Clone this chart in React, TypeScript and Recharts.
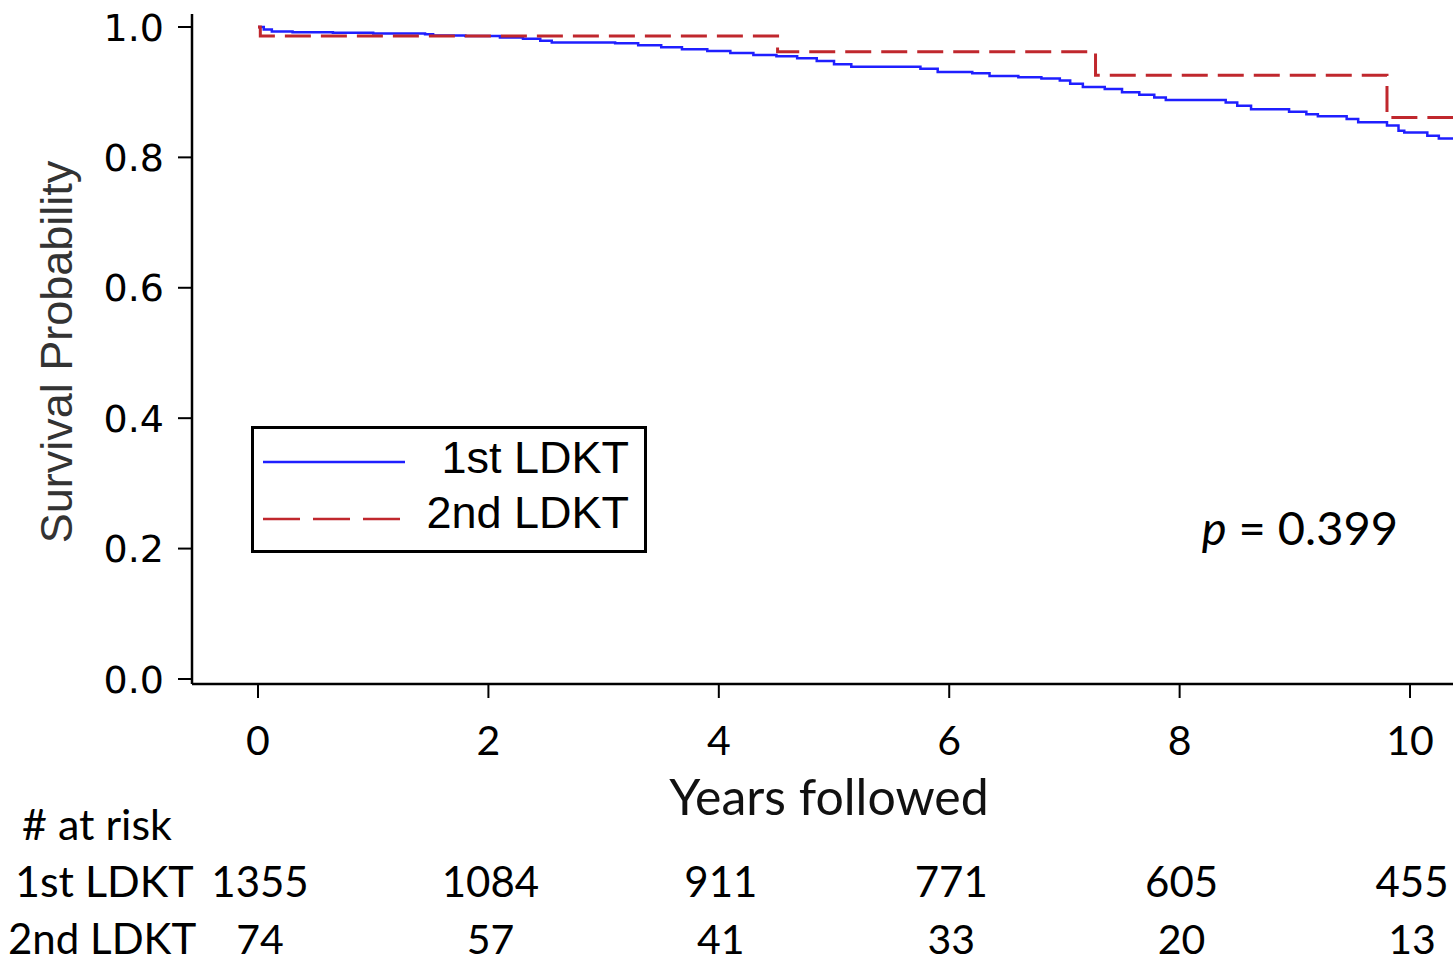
import React from "react";
import { LineChart, Line, XAxis, YAxis, Legend, Customized } from "recharts";

// ---- data ----
const years = [0, 2, 4, 6, 8, 10];
const atRiskFirst = [1355, 1084, 911, 771, 605, 455];
const atRiskSecond = [74, 57, 41, 33, 20, 13];
const yTicks = [0, 0.2, 0.4, 0.6, 0.8, 1.0];
const seriesNames = ["1st LDKT", "2nd LDKT"];
const pValueText = "0.399";

const firstTimes = [
  0, 0.05, 0.12, 0.3, 0.65, 1.0, 1.45, 1.52, 1.8, 2.1, 2.3, 2.45, 2.55, 3.1, 3.3, 3.5,
  3.68, 3.9, 4.1, 4.3, 4.5, 4.68, 4.85, 5.0, 5.15, 5.75, 5.9, 6.2, 6.35, 6.6, 6.8, 6.96,
  7.05, 7.16, 7.35, 7.5, 7.65, 7.78, 7.88, 8.4, 8.5, 8.62, 8.95, 9.1, 9.2, 9.45, 9.55,
  9.8, 9.9, 9.95, 10.15, 10.25, 10.373,
];
const firstSurv = [
  1.0, 0.996, 0.993, 0.992, 0.991, 0.99, 0.989, 0.987, 0.986, 0.984, 0.982, 0.979, 0.976,
  0.975, 0.972, 0.969, 0.966, 0.963, 0.96, 0.957, 0.955, 0.952, 0.948, 0.943, 0.939, 0.936,
  0.931, 0.929, 0.925, 0.923, 0.921, 0.918, 0.913, 0.908, 0.905, 0.9, 0.896, 0.892, 0.888,
  0.884, 0.879, 0.874, 0.87, 0.866, 0.863, 0.859, 0.854, 0.849, 0.841, 0.838, 0.833, 0.829,
  0.829,
];
const secondTimes = [0, 0.02, 4.51, 7.27, 9.8, 10.373];
const secondSurv = [1.0, 0.986, 0.962, 0.926, 0.861, 0.861];

const firstData = firstTimes.map((t, i) => ({ t, s: firstSurv[i] }));
const secondData = secondTimes.map((t, i) => ({ t, s: secondSurv[i] }));

const BLUE = "#1f1fff";
const RED = "#c0272d";
const CAL = "Lato, 'Open Sans', sans-serif";
const ARIAL = "'Liberation Sans', Arial, sans-serif";
const VERD = "'DejaVu Sans', Verdana, sans-serif";

const XTick = (props: any) => {
  const { x, payload } = props;
  const i = years.indexOf(payload.value);
  return (
    <g fontFamily={CAL} fill="#000">
      <text x={x} y={755} textAnchor="middle" fontSize={41}>
        {payload.value}
      </text>
      <text x={x + 2} y={897} textAnchor="middle" fontSize={42}>
        {atRiskFirst[i]}
      </text>
      <text x={x + 2} y={954} textAnchor="middle" fontSize={41}>
        {atRiskSecond[i]}
      </text>
    </g>
  );
};

const YTick = (props: any) => {
  const { y, payload } = props;
  return (
    <text x={164} y={y} dy="0.36em" textAnchor="end" fontFamily={VERD} fontSize={38} fill="#000">
      {payload.value.toFixed(1)}
    </text>
  );
};

const LegendBox = () => (
  <div
    style={{
      width: 396,
      height: 127,
      border: "3px solid #000",
      boxSizing: "border-box",
      background: "#fff",
    }}
  >
    <svg width={390} height={121} style={{ display: "block" }}>
      <line x1={9} x2={151} y1={33} y2={33} stroke={BLUE} strokeWidth={2.5} />
      <line x1={9} x2={150} y1={90} y2={90} stroke={RED} strokeWidth={2.5} strokeDasharray="37 13" />
      <text x={375} y={44} textAnchor="end" fontFamily={ARIAL} fontSize={45} fill="#000">
        {seriesNames[0]}
      </text>
      <text x={375} y={99} textAnchor="end" fontFamily={ARIAL} fontSize={45} fill="#000">
        {seriesNames[1]}
      </text>
    </svg>
  </div>
);

const StaticText = () => (
  <g>
    <text
      x={0}
      y={0}
      transform="translate(72,352) rotate(-90)"
      textAnchor="middle"
      fontFamily={ARIAL}
      fontSize={45}
      fill="#333"
    >
      Survival Probability
    </text>
    <text x={829} y={815} textAnchor="middle" fontFamily={CAL} fontSize={50} fill="#111">
      Years followed
    </text>
    <text x={22} y={840} fontFamily={CAL} fontSize={43} fill="#000">
      # at risk
    </text>
    <text x={15} y={897} fontFamily={CAL} fontSize={43} fill="#000">
      {seriesNames[0]}
    </text>
    <text x={8} y={954} fontFamily={CAL} fontSize={42} fill="#000">
      {seriesNames[1]}
    </text>
    <text x={1398} y={545} textAnchor="end" fontFamily={CAL} fontSize={47} fill="#000">
      <tspan fontStyle="italic">p</tspan>
      <tspan> = {pValueText}</tspan>
    </text>
  </g>
);

const X_DOMAIN: [number, number] = [-0.573, 10.373];
const Y_DOMAIN: [number, number] = [-0.0077, 1.0199];

export default function App() {
  return (
    <div style={{ position: "absolute", left: 0, top: 0, width: 1453, height: 964, background: "#fff" }}>
      <LineChart width={1453} height={964} margin={{ top: 14, right: 0, bottom: 0, left: 0 }}>
        <XAxis
          dataKey="t"
          type="number"
          domain={X_DOMAIN}
          allowDataOverflow
          ticks={years}
          tick={<XTick />}
          tickSize={14}
          tickLine={{ stroke: "#000", strokeWidth: 2 }}
          axisLine={{ stroke: "#000", strokeWidth: 2.5 }}
          height={280}
          interval={0}
        />
        <XAxis
          xAxisId="top"
          orientation="top"
          dataKey="t"
          type="number"
          domain={X_DOMAIN}
          allowDataOverflow
          tick={false}
          tickLine={false}
          axisLine={{ stroke: "#000", strokeWidth: 2.5 }}
          height={0}
        />
        <YAxis
          type="number"
          domain={Y_DOMAIN}
          allowDataOverflow
          ticks={yTicks}
          tick={<YTick />}
          tickSize={14}
          tickLine={{ stroke: "#000", strokeWidth: 2 }}
          axisLine={{ stroke: "#000", strokeWidth: 2.5 }}
          width={192}
          interval={0}
        />
        <Legend
          layout="vertical"
          align="center"
          verticalAlign="middle"
          content={<LegendBox />}
          wrapperStyle={{ left: 251, top: 426, width: 396, height: 127 }}
        />
        <Line
          data={firstData}
          dataKey="s"
          name={seriesNames[0]}
          type="stepAfter"
          stroke={BLUE}
          strokeWidth={2.5}
          dot={false}
          activeDot={false}
          isAnimationActive={false}
        />
        <Line
          data={secondData}
          dataKey="s"
          name={seriesNames[1]}
          type="stepAfter"
          stroke={RED}
          strokeWidth={3}
          strokeDasharray="26 10"
          dot={false}
          activeDot={false}
          isAnimationActive={false}
        />
        <Customized component={StaticText} />
      </LineChart>
    </div>
  );
}
